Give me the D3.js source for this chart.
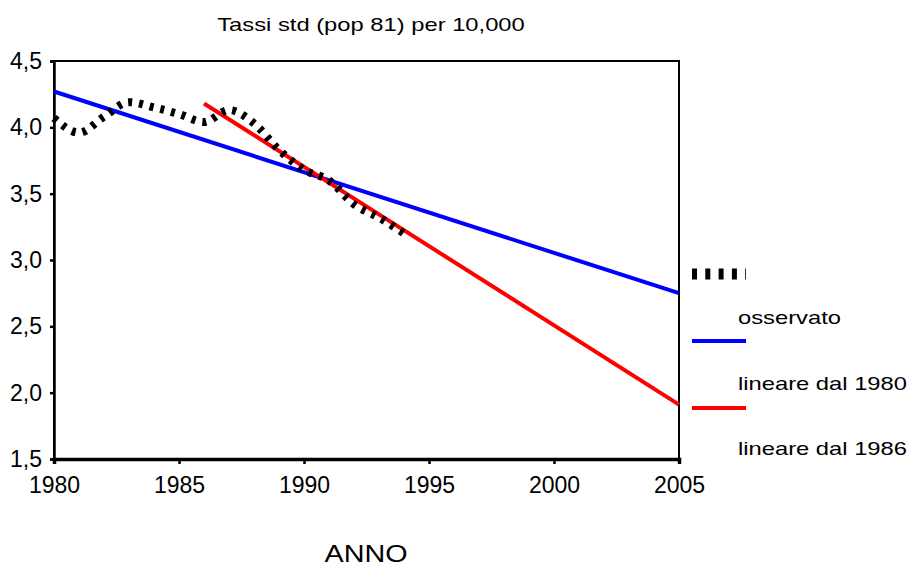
<!DOCTYPE html>
<html><head><meta charset="utf-8">
<script src="https://cdn.jsdelivr.net/npm/d3@7"></script>
<style>
body{margin:0;background:#fff;}
text{font-family:"Liberation Sans",Arial,sans-serif;fill:#000;}
</style></head>
<body><svg id="c" width="915" height="569"></svg>
<script>
// ---- data ----
const obsYears = [1980,1981,1982,1983,1984,1985,1986,1987,1988,1989,1990,1991,1992,1993,1994];
const obsValues = [4.07,3.96,4.08,4.19,4.15,4.10,4.04,4.13,4.03,3.83,3.68,3.60,3.42,3.32,3.20];
const lin80Years = [1980,2005];
const lin80Values = [4.27,2.75];
const lin86Years = [1986,2005];
const lin86Values = [4.18,1.91];
const xTicks = [1980,1985,1990,1995,2000,2005];
const yTicks = [1.5,2.0,2.5,3.0,3.5,4.0,4.5];
const title = "Tassi std (pop 81) per 10,000";
const xTitle = "ANNO";
const legendLabels = ["osservato","lineare dal 1980","lineare dal 1986"];

const SX = 1.25; // horizontal text stretch for title / legend
const svg = d3.select("#c");
const L = 54, R = 679, T = 61, B = 459;
const x = d3.scaleLinear().domain([1980,2005]).range([L,R]);
const y = d3.scaleLinear().domain([1.5,4.5]).range([B,T]);
const loc = d3.formatLocale({decimal:",",thousands:".",grouping:[3],currency:["",""]});
const fmt = loc.format(".1f");

function addText(px, py, str, anchor, size){
  const g = svg.append("g").attr("transform",`translate(${px},${py}) scale(${SX},1)`);
  g.append("text").attr("text-anchor",anchor).attr("font-size",size).text(str);
}

// frame
svg.append("rect").attr("x",L).attr("y",T).attr("width",R-L).attr("height",B-T)
  .attr("fill","none").attr("stroke","#000").attr("stroke-width",2);

// axes
const ya = svg.append("g").attr("transform",`translate(${L},0)`)
  .call(d3.axisLeft(y).tickValues(yTicks).tickFormat(fmt).tickSize(4).tickPadding(8));
const xa = svg.append("g").attr("transform",`translate(0,${B})`)
  .call(d3.axisBottom(x).tickValues(xTicks).tickFormat(d3.format("d")).tickSize(5).tickPadding(13));
[ya,xa].forEach(a=>{
  a.select(".domain").attr("stroke","#000").attr("stroke-width",2.5);
  a.selectAll(".tick line").attr("stroke","#000").attr("stroke-width",2.5);
  a.selectAll(".tick text").attr("font-size",23).attr("font-family","Liberation Sans, Arial, sans-serif");
});
xa.select(".domain").attr("stroke-width",3.5);

// lines
const line = d3.line().x(d=>x(d[0])).y(d=>y(d[1]));
svg.append("path").datum(lin80Years.map((d,i)=>[d,lin80Values[i]]))
  .attr("d",line).attr("fill","none").attr("stroke","#0000ff").attr("stroke-width",4);
svg.append("path").datum(lin86Years.map((d,i)=>[d,lin86Values[i]]))
  .attr("d",line).attr("fill","none").attr("stroke","#ff0000").attr("stroke-width",4);
svg.append("path").datum(obsYears.map((d,i)=>[d,obsValues[i]]))
  .attr("d",line.curve(d3.curveMonotoneX)).attr("fill","none").attr("stroke","#000")
  .attr("stroke-width",8).attr("stroke-dasharray","4,7");

// titles
addText(371, 31, title, "middle", 19);
addText(366, 562, xTitle, "middle", 23);

// legend
svg.append("line").attr("x1",692).attr("x2",746).attr("y1",274).attr("y2",274)
  .attr("stroke","#000").attr("stroke-width",11).attr("stroke-dasharray","5,8.3");
svg.append("line").attr("x1",692).attr("x2",746).attr("y1",341).attr("y2",341)
  .attr("stroke","#0000ff").attr("stroke-width",4);
svg.append("line").attr("x1",692).attr("x2",746).attr("y1",408).attr("y2",408)
  .attr("stroke","#ff0000").attr("stroke-width",4);
addText(738, 324, legendLabels[0], "start", 19);
addText(738, 390, legendLabels[1], "start", 19);
addText(738, 455, legendLabels[2], "start", 19);
</script></body></html>
